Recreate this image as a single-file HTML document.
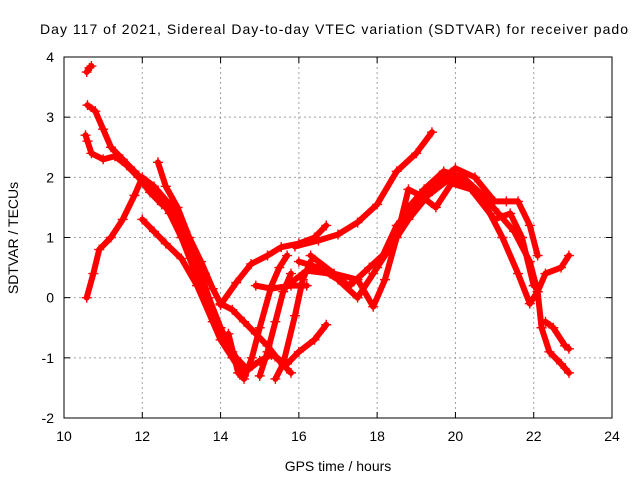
<!DOCTYPE html>
<html><head><meta charset="utf-8"><style>
body{margin:0;background:#fff}
svg{display:block;font-family:"Liberation Sans",Arial,sans-serif}
</style></head><body>
<svg id="chart" width="640" height="480" viewBox="0 0 640 480">
<rect x="0" y="0" width="640" height="480" fill="#fff"/>
<text x="334" y="34" font-size="14" text-anchor="middle" textLength="588">Day 117 of 2021, Sidereal Day-to-day VTEC variation (SDTVAR) for receiver pado</text>
<g id="grid"></g>
<g id="axes"></g>
<g id="series"></g>
<rect x="64" y="57" width="548" height="361" fill="none" stroke="#000" stroke-width="1"/>
<text x="338" y="471" font-size="14" text-anchor="middle">GPS time / hours</text>
<text x="18" y="238" font-size="14" text-anchor="middle" transform="rotate(-90 18 238)">SDTVAR / TECUs</text>
</svg>
<script>
const xTicks=[10,12,14,16,18,20,22,24];
const yTicks=[-2,-1,0,1,2,3,4];
const trackTop=[[10.58,3.75],[10.65,3.82],[10.7,3.85]];
const trackA=[[10.6,3.2],[10.8,3.1],[11.0,2.8],[11.2,2.5],[11.5,2.3],[11.8,2.1],[12.1,1.9],[12.4,1.7],[12.7,1.4],[13.0,1.0],[13.3,0.5],[13.6,0.0],[13.9,-0.4],[14.1,-0.7],[14.4,-1.0],[14.7,-1.2],[15.0,-1.05],[15.3,-0.95],[15.7,-1.1],[16.0,-0.9],[16.4,-0.7],[16.7,-0.45]];
const trackB=[[10.55,2.7],[10.6,2.6],[10.7,2.4],[11.0,2.3],[11.3,2.35],[11.6,2.2],[11.9,2.0],[12.2,1.75],[12.5,1.55],[12.8,1.4],[13.1,1.1],[13.4,0.6],[13.7,0.0],[14.0,-0.5],[14.3,-0.9],[14.6,-1.2]];
const trackC=[[10.58,0.0],[10.75,0.4],[10.9,0.8],[11.2,1.0],[11.5,1.3],[11.8,1.7],[12.0,2.0],[12.3,1.85],[12.7,1.55],[13.0,1.2],[13.3,0.8],[13.6,0.4]];
const trackD=[[12.4,2.25],[12.6,1.85],[12.9,1.5],[13.2,1.0],[13.5,0.6],[13.8,0.15],[14.0,-0.1],[14.3,-0.2],[14.6,-0.4],[14.9,-0.6],[15.2,-0.8],[15.5,-1.05],[15.8,-1.25]];
const trackE=[[12.0,1.3],[12.3,1.1],[12.6,0.9],[13.0,0.65],[13.4,0.2],[13.8,-0.4],[14.0,-0.7],[14.3,-1.0],[14.6,-1.3]];
const trackF=[[14.0,-0.12],[14.4,0.25],[14.78,0.56],[15.2,0.7],[15.55,0.84],[16.0,0.9],[16.4,1.0],[16.7,1.2]];
const trackG=[[15.9,0.85],[16.5,0.95],[17.0,1.05],[17.5,1.25],[18.0,1.55],[18.5,2.1],[19.0,2.4],[19.4,2.75]];
const trackH=[[15.7,0.2],[16.2,0.45],[16.8,0.4],[17.3,0.2],[17.8,0.5],[18.3,0.8],[18.8,1.3],[19.3,1.7],[19.9,2.0],[20.3,1.9],[20.8,1.5],[21.2,1.0],[21.6,0.4],[21.9,-0.1],[22.1,0.1],[22.3,0.4],[22.7,0.5],[22.9,0.7]];
const trackI=[[16.0,0.6],[16.5,0.5],[17.0,0.3],[17.5,0.0],[17.9,0.4],[18.4,0.9],[18.8,1.5],[19.2,1.8],[19.7,2.1],[20.2,2.0],[20.7,1.7],[21.1,1.4],[21.5,1.1],[21.9,0.6],[22.1,0.1],[22.2,-0.5],[22.4,-0.9],[22.7,-1.1],[22.9,-1.25]];
const trackJ=[[16.3,0.7],[16.9,0.4],[17.5,0.3],[17.9,-0.15],[18.2,0.3],[18.5,1.0],[18.8,1.8],[19.1,1.7],[19.5,1.5],[19.9,1.9],[20.4,1.8],[21.0,1.3],[21.4,1.4],[21.7,1.0],[22.0,0.2]];
const trackK=[[18.0,0.5],[18.5,1.2],[19.0,1.6],[19.5,1.9],[20.0,2.15],[20.5,2.0],[21.0,1.6],[21.3,1.6],[21.6,1.6],[21.9,1.2],[22.1,0.7]];
const trackL=[[22.3,-0.4],[22.5,-0.5],[22.8,-0.8],[22.9,-0.85]];
const trackM=[[14.2,-0.6],[14.45,-1.25],[14.6,-1.35],[14.8,-1.0],[15.0,-0.5],[15.3,0.2],[15.5,0.5],[15.7,0.7]];
const trackN=[[15.0,-1.3],[15.2,-0.9],[15.4,-0.4],[15.6,0.1],[15.8,0.4]];
const trackO=[[15.4,-1.35],[15.6,-1.1],[15.9,-0.3],[16.1,0.3],[16.3,0.6]];
const trackP=[[14.9,0.2],[15.3,0.15],[15.8,0.2],[16.2,0.2]];
const tracks=[trackTop,trackA,trackB,trackC,trackD,trackE,trackF,trackG,trackH,trackI,trackJ,trackK,trackL,trackM,trackN,trackO,trackP];
const NS='http://www.w3.org/2000/svg';
const X0=64,X1=612,Y0=418,Y1=57;
const xs=h=>X0+(h-10)/14*(X1-X0);
const ys=v=>Y0-(v+2)/6*(Y0-Y1);
const grid=document.getElementById('grid'),axes=document.getElementById('axes'),ser=document.getElementById('series');
function mk(tag,attrs,parent){const e=document.createElementNS(NS,tag);for(const k in attrs)e.setAttribute(k,attrs[k]);parent.appendChild(e);return e;}
xTicks.forEach(t=>{const x=xs(t);
 if(t>10&&t<24){const g=mk('line',{x1:x,x2:x,y1:Y1,y2:Y0,stroke:'#a0a0a0','stroke-dasharray':'2,3'},grid);
 
 }
 mk('line',{x1:x,x2:x,y1:Y0,y2:Y0-6,stroke:'#000'},axes);mk('line',{x1:x,x2:x,y1:Y1,y2:Y1+6,stroke:'#000'},axes);
 const l=mk('text',{x:x,y:Y0+23,'font-size':14,'text-anchor':'middle'},axes);l.textContent=t;
 
 });
yTicks.forEach(t=>{const y=ys(t);
 if(t>-2&&t<4){const g=mk('line',{x1:X0,x2:X1,y1:y,y2:y,stroke:'#a0a0a0','stroke-dasharray':'2,3'},grid);
 
 }
 mk('line',{x1:X0,x2:X0+6,y1:y,y2:y,stroke:'#000'},axes);mk('line',{x1:X1,x2:X1-6,y1:y,y2:y,stroke:'#000'},axes);
 const l=mk('text',{x:X0-10,y:y+5,'font-size':14,'text-anchor':'end'},axes);l.textContent=t;
 
 });
tracks.forEach((tr,i)=>{
 const p=mk('polyline',{points:tr.map(d=>xs(d[0])+','+ys(d[1])).join(' '),fill:'none',stroke:'#ff0000','stroke-width':6,'stroke-linejoin':'round','stroke-linecap':'round'},ser);
 
 
 tr.forEach(d=>{const x=xs(d[0]),y=ys(d[1]);
  const m=mk('path',{d:`M${x-5},${y}H${x+5}M${x},${y-5}V${y+5}`,stroke:'#ff0000','stroke-width':1.4},ser);
  
  });
});
</script>
</body></html>
